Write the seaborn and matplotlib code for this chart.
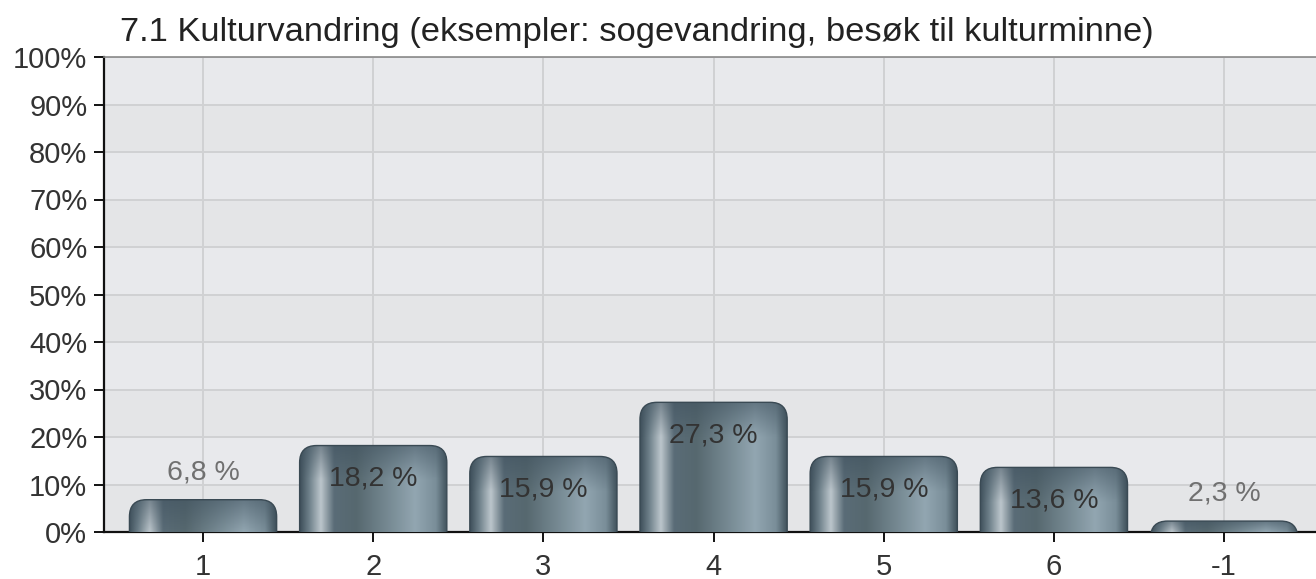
import matplotlib
matplotlib.use("Agg")
import matplotlib.pyplot as plt
from matplotlib.patches import FancyBboxPatch
from matplotlib.colors import LinearSegmentedColormap
import seaborn as sns
import numpy as np
import pandas as pd

categories = ["1", "2", "3", "4", "5", "6", "-1"]
values = [6.8, 18.2, 15.9, 27.3, 15.9, 13.6, 2.3]
value_labels = ["6,8 %", "18,2 %", "15,9 %", "27,3 %", "15,9 %", "13,6 %", "2,3 %"]
title = "7.1 Kulturvandring (eksempler: sogevandring, besøk til kulturminne)"

sns.set_theme(style="white")
plt.rcParams["font.family"] = ["Liberation Sans", "DejaVu Sans"]

df = pd.DataFrame({"cat": categories, "pct": values})

fig = plt.figure(figsize=(13.16, 5.79), dpi=100)
ax = fig.add_axes([104 / 1316, 47 / 579, 1212 / 1316, 475 / 579])

sns.barplot(data=df, x="cat", y="pct", order=categories, width=0.865,
            color="#5d707b", ax=ax, zorder=3)
bars = list(ax.patches)

# background bands + grid
ax.set_facecolor("#e4e5e7")
for lo in range(10, 100, 20):
    ax.axhspan(lo, lo + 10, color="#e8e9ec", zorder=0, lw=0)
ax.set_yticks(range(0, 101, 10))
ax.set_yticklabels([f"{v}%" for v in range(0, 101, 10)])
ax.grid(True, color="#d0d1d3", linewidth=1.4, zorder=1)
ax.set_axisbelow(True)

# cylinder-like gradient for the bars
bar_cmap = LinearSegmentedColormap.from_list("bar", [
    (0.0, "#3f505b"), (0.06, "#6d7f89"), (0.14, "#bcc6cc"), (0.23, "#5a6c77"),
    (0.38, "#56686f"), (0.78, "#92a6b1"), (0.92, "#7a8e99"), (1.0, "#3d4e58")])
grad = np.linspace(0, 1, 256).reshape(1, -1)
rim_cmap = LinearSegmentedColormap.from_list(
    "rim", [(0.25, 0.32, 0.37, 0.0), (0.25, 0.32, 0.37, 0.55)])

rx = 0.1
ry = 3.6
for p in bars:
    x0, w, h = p.get_x(), p.get_width(), p.get_height()
    p.set_visible(False)
    y0 = min(-ry, h - 2 * ry)
    box = FancyBboxPatch((x0, y0), w, h - y0,
                         boxstyle=f"round,pad=0,rounding_size={rx}",
                         mutation_aspect=ry / rx, facecolor="none",
                         edgecolor="#3a4a54", linewidth=1.0, zorder=4)
    ax.add_patch(box)
    im = ax.imshow(grad, cmap=bar_cmap, aspect="auto",
                   extent=(x0, x0 + w, 0, h), zorder=3, interpolation="bilinear")
    im.set_clip_path(box)
    # darker rim near the top
    top = ax.imshow(np.linspace(0, 1, 64).reshape(-1, 1), cmap=rim_cmap, aspect="auto",
                    extent=(x0, x0 + w, max(h - 2 * ry, 0), h), origin="lower", zorder=3.5)
    top.set_clip_path(box)

ax.set_xlim(-0.582, 6.54)
ax.set_ylim(0, 100)

for i, (v, lab) in enumerate(zip(values, value_labels)):
    if v > 10:
        ax.text(i, v - 7, lab, ha="center", va="center", fontsize=20.5,
                color="#333333", zorder=6)
    else:
        ax.text(i, v + 5.7, lab, ha="center", va="center", fontsize=20.5,
                color="#707070", zorder=6)

for s in ["left", "bottom"]:
    ax.spines[s].set_color("#111111")
    ax.spines[s].set_linewidth(1.6)
ax.spines["top"].set_color("#8a8a8a")
ax.spines["top"].set_linewidth(1.2)
ax.spines["right"].set_visible(False)
ax.tick_params(axis="both", which="both", direction="out", length=7, width=1.4,
               color="#111111", labelsize=21, labelcolor="#333333",
               left=True, bottom=True)
ax.tick_params(axis="x", pad=8)
ax.tick_params(axis="y", pad=5)
ax.set_xlabel("")
ax.set_ylabel("")

fig.text(120 / 1316, 1 - 33 / 579, title, ha="left", va="center",
         fontsize=24.8, color="#222222")

fig.savefig("out.png", dpi=100)
